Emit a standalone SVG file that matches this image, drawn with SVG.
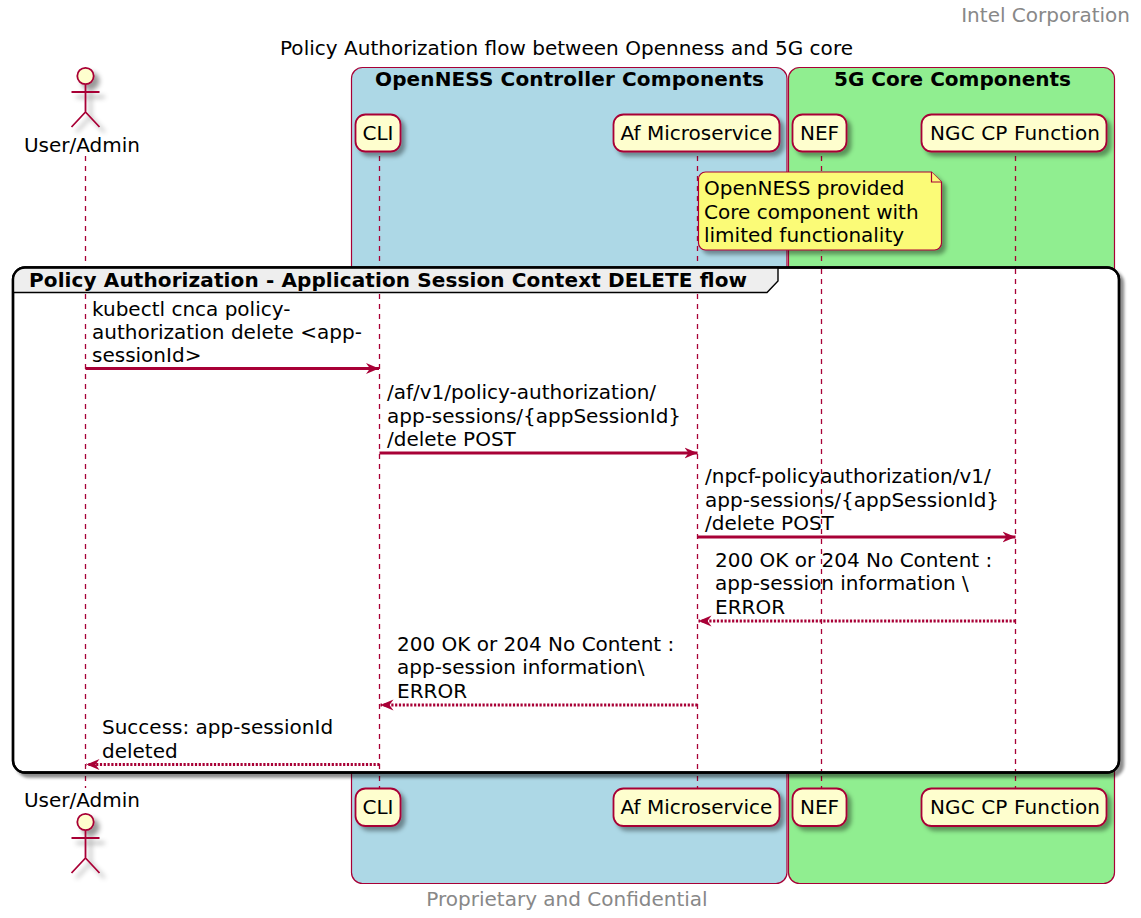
<svg xmlns="http://www.w3.org/2000/svg" width="1141" height="918" viewBox="0 0 1141 918">
<style>
text{font-family:"DejaVu Sans",sans-serif;font-size:20px;fill:#000}
.g{fill:#888}
.b{font-weight:bold}
.box{stroke:#A80036;stroke-width:1.2}
.part{fill:#FEFECE;stroke:#A80036;stroke-width:1.8;filter:url(#sh)}
.ll{stroke:#A80036;stroke-width:1.3;stroke-dasharray:5 5;fill:none}
.m{stroke:#A80036;stroke-width:2.8;fill:none}
.d{stroke-dasharray:2.2 1.6}
</style>
<defs>
<filter id="sh" x="-30%" y="-30%" width="170%" height="170%"><feDropShadow dx="4" dy="4" stdDeviation="2.2" flood-color="#000" flood-opacity="0.38"/></filter>
<filter id="sha" x="-40%" y="-30%" width="190%" height="170%"><feDropShadow dx="5" dy="5" stdDeviation="2.6" flood-color="#000" flood-opacity="0.4"/></filter>
<filter id="shg" x="-5%" y="-5%" width="110%" height="110%"><feDropShadow dx="4" dy="4" stdDeviation="1.8" flood-color="#000" flood-opacity="0.45"/></filter>
<marker id="a" markerUnits="userSpaceOnUse" markerWidth="15" markerHeight="12" refX="13" refY="6" orient="auto"><path d="M0 .5L13 6L0 11.500L4 6Z" fill="#A80036"/></marker>
<g id="actorShape"><circle cx="85.500" cy="76" r="8.200" fill="#FEFECE" stroke="#A80036" stroke-width="1.800"/><path d="M85.500 84.500V112M71.500 92H99.500M85.500 112L71.500 127M85.500 112L99.500 127" fill="none" stroke="#A80036" stroke-width="1.800"/></g>
</defs>
<text class="g" x="1130" y="22" text-anchor="end">Intel Corporation</text>
<text x="280" y="55" textLength="573">Policy Authorization flow between Openness and 5G core</text>
<text class="g" x="567" y="906" text-anchor="middle">Proprietary and Confidential</text>
<g id="box-openness"><rect class="box" x="351.500" y="67.500" width="435.500" height="816" rx="11" fill="#ADD8E6"/><text class="b" x="375" y="85.500" textLength="389">OpenNESS Controller Components</text></g>
<g id="box-5g"><rect class="box" x="788.500" y="67.500" width="326" height="816" rx="11" fill="#90EE90"/><text class="b" x="834" y="85.500" textLength="237">5G Core Components</text></g>
<g id="lifelines">
<path class="ll" d="M85.500 156V788"/>
<path class="ll" d="M379.500 156V788"/>
<path class="ll" d="M697.500 156V788"/>
<path class="ll" d="M821.500 156V788"/>
<path class="ll" d="M1015.500 156V788"/>
</g>
<g id="note"><path d="M698.500 179a7 7 0 0 1 7-7H931.500L941.500 182V243a7 7 0 0 1-7 7H705.500a7 7 0 0 1-7-7Z" fill="#FBFB77" stroke="#A80036" stroke-width="1.200" filter="url(#sh)"/><path d="M931.500 172V182H941.500" fill="#FBFB77" stroke="#A80036" stroke-width="1.200"/>
<text x="704" y="195">OpenNESS provided</text><text x="704" y="219">Core component with</text><text x="704" y="242">limited functionality</text></g>
<g id="group"><rect x="13" y="267.500" width="1106" height="505" rx="12" fill="#fff" stroke="#000" stroke-width="2.400" filter="url(#shg)"/>
<path d="M13 292.500V279.500a12 12 0 0 1 12-12H778V281L767 292.500Z" fill="#EEE" stroke="#000" stroke-width="1.400"/><rect x="13" y="267.500" width="1106" height="505" rx="12" fill="none" stroke="#000" stroke-width="2.400"/>
<text class="b" x="29" y="287" textLength="718">Policy Authorization - Application Session Context DELETE flow</text></g>
<g id="lifelines-over">
<path class="ll" d="M85.500 294V771"/>
<path class="ll" d="M379.500 294V771"/>
<path class="ll" d="M697.500 294V771"/>
<path class="ll" d="M821.500 269V771"/>
<path class="ll" d="M1015.500 269V771"/>
</g>
<g id="connectors">
<path class="m" marker-end="url(#a)" d="M85.500 368.500H379"/>
<path class="m" marker-end="url(#a)" d="M379.500 453H697.500"/>
<path class="m" marker-end="url(#a)" d="M697.500 537H1015.500"/>
<path class="m d" marker-end="url(#a)" d="M1015.500 621H698.500"/>
<path class="m d" marker-end="url(#a)" d="M697.500 705H380.500"/>
<path class="m d" marker-end="url(#a)" d="M379.500 764.500H86.500"/>
</g>
<g id="labels">
<text x="92" y="315.500">kubectl cnca policy-</text><text x="92" y="339">authorization delete &lt;app-</text><text x="92" y="361.500">sessionId&gt;</text>
<text x="387" y="399">/af/v1/policy-authorization/</text><text x="387" y="423">app-sessions/{appSessionId}</text><text x="387" y="445.500">/delete POST</text>
<text x="705" y="483">/npcf-policyauthorization/v1/</text><text x="705" y="507">app-sessions/{appSessionId}</text><text x="705" y="529.500">/delete POST</text>
<text x="715" y="566.500">200 OK or 204 No Content :</text><text x="715" y="590">app-session information \</text><text x="715" y="613.500">ERROR</text>
<text x="397" y="650.500">200 OK or 204 No Content :</text><text x="397" y="674">app-session information\</text><text x="397" y="697.500">ERROR</text>
<text x="102" y="734">Success: app-sessionId</text><text x="102" y="757.500">deleted</text>
</g>
<g id="actor-top"><use href="#actorShape" filter="url(#sha)"/><text x="82" y="152" text-anchor="middle">User/Admin</text></g>
<g id="actor-bottom"><use href="#actorShape" y="746" filter="url(#sha)"/><text x="82" y="807" text-anchor="middle">User/Admin</text></g>
<g id="cli-top"><rect class="part" x="355.500" y="114.500" width="45" height="37" rx="10"/><text x="378" y="140" text-anchor="middle">CLI</text></g>
<g id="af-top"><rect class="part" x="613.500" y="114.500" width="166" height="37" rx="10"/><text x="696.500" y="140" text-anchor="middle">Af Microservice</text></g>
<g id="nef-top"><rect class="part" x="792.500" y="114.500" width="54" height="37" rx="10"/><text x="819.500" y="140" text-anchor="middle">NEF</text></g>
<g id="ngc-top"><rect class="part" x="921.500" y="114.500" width="185" height="37" rx="10"/><text x="1015" y="140" text-anchor="middle" textLength="170">NGC CP Function</text></g>
<g id="cli-bottom"><rect class="part" x="355.500" y="788.500" width="45" height="37.500" rx="10"/><text x="378" y="814" text-anchor="middle">CLI</text></g>
<g id="af-bottom"><rect class="part" x="613.500" y="788.500" width="166" height="37.500" rx="10"/><text x="696.500" y="814" text-anchor="middle">Af Microservice</text></g>
<g id="nef-bottom"><rect class="part" x="792.500" y="788.500" width="54" height="37.500" rx="10"/><text x="819.500" y="814" text-anchor="middle">NEF</text></g>
<g id="ngc-bottom"><rect class="part" x="921.500" y="788.500" width="185" height="37.500" rx="10"/><text x="1015" y="814" text-anchor="middle" textLength="170">NGC CP Function</text></g>
</svg>
